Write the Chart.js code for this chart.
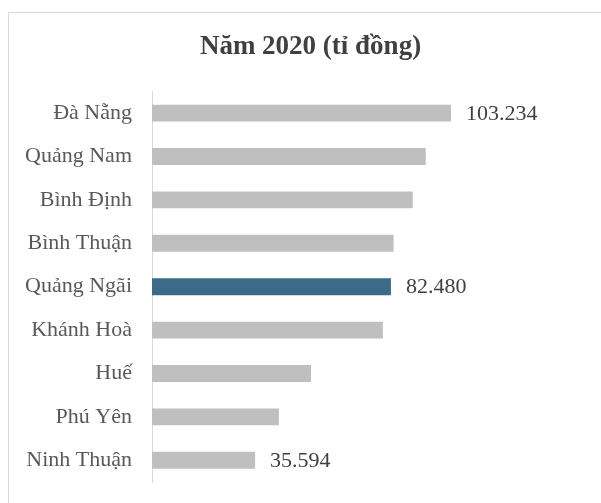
<!DOCTYPE html>
<html>
<head>
<meta charset="utf-8">
<script src="https://cdn.jsdelivr.net/npm/chart.js@4/dist/chart.umd.min.js"></script>
<style>
    html, body { margin: 0; padding: 0; background: #fff; }
    #wrap { position: relative; width: 601px; height: 503px; overflow: hidden; }
    #frame {
        position: absolute; left: 8px; top: 12px; width: 700px; height: 600px;
        border: 1px solid #d9d9d9; box-sizing: border-box;
    }
    #chart { position: absolute; left: 0; top: 0; }
</style>
</head>
<body>
<div id="wrap">
    <div id="frame"></div>
    <canvas id="chart" width="601" height="503"></canvas>
</div>
<script>
const provinces = ["Đà Nẵng", "Quảng Nam", "Bình Định", "Bình Thuận", "Quảng Ngãi",
    "Khánh Hoà", "Huế", "Phú Yên", "Ninh Thuận"];
const revenue = [103.234, 94.5, 90.0, 83.4, 82.48, 79.7, 54.9, 43.8, 35.594];
const valueLabels = ["103.234", null, null, null, "82.480", null, null, null, "35.594"];
const highlighted = "Quảng Ngãi";

const barColors = provinces.map((p) => (p === highlighted ? "#3b6b89" : "#bfbfbf"));

// draws the few value labels next to the bar ends
const valueLabelPlugin = {
    id: "valueLabels",
    afterDatasetsDraw(chart) {
        const ctx = chart.ctx;
        const meta = chart.getDatasetMeta(0);
        ctx.save();
        ctx.font = "22px 'Liberation Serif'";
        ctx.fillStyle = "#404040";
        ctx.textAlign = "left";
        ctx.textBaseline = "middle";
        meta.data.forEach((bar, i) => {
            if (valueLabels[i]) {
                ctx.fillText(valueLabels[i], bar.x + 15, bar.y + 1);
            }
        });
        ctx.restore();
    },
};

new Chart(document.getElementById("chart"), {
    type: "bar",
    data: {
        labels: provinces,
        datasets: [
            {
                data: revenue,
                backgroundColor: barColors,
                borderWidth: 0,
                barPercentage: 0.39,
                categoryPercentage: 1,
            },
        ],
    },
    options: {
        indexAxis: "y",
        responsive: false,
        animation: false,
        layout: { padding: { left: 20, right: 0, top: 0, bottom: 21 } },
        scales: {
            x: { display: false, min: 0, max: 155 },
            y: {
                grid: { display: false, drawTicks: false },
                border: { display: true, color: "#d9d9d9", width: 1 },
                ticks: {
                    padding: 20,
                    color: "#595959",
                    font: { family: "'Liberation Serif'", size: 22 },
                },
                afterFit(scale) {
                    scale.width = 132;
                    scale.paddingTop = 0;
                    scale.paddingBottom = 0;
                },
            },
        },
        plugins: {
            legend: { display: false },
            tooltip: { enabled: false },
            title: {
                display: true,
                text: "Năm 2020 (tỉ đồng)",
                color: "#404040",
                font: { family: "'Liberation Serif'", size: 27, weight: "bold", lineHeight: 1.2 },
                padding: { top: 31, bottom: 28 },
            },
        },
    },
    plugins: [valueLabelPlugin],
});
</script>
</body>
</html>
